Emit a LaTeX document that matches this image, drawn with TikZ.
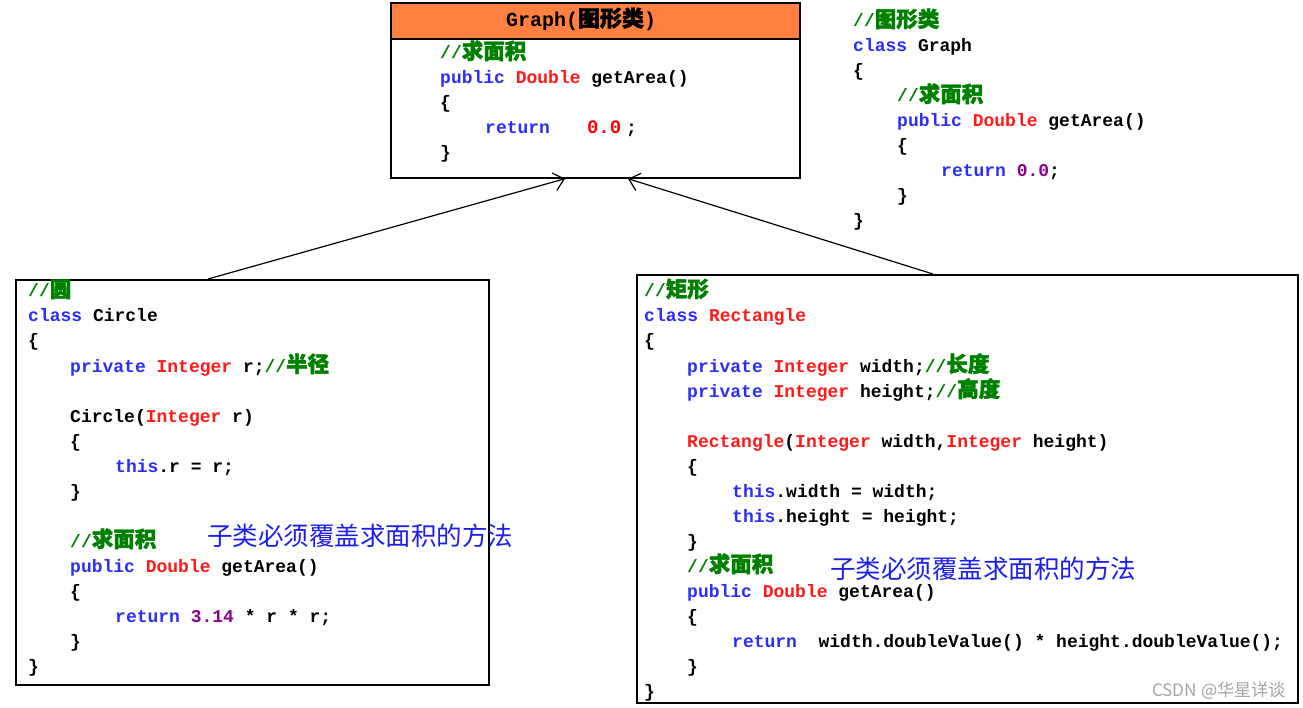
\documentclass[tikz,border=0pt]{standalone}
\usepackage{fontspec}
\usetikzlibrary{arrows.meta,calc}
\setmainfont{Liberation Sans}
\setmonofont{Liberation Mono}
\newfontfamily\cjk{Noto Sans CJK SC}
\newfontfamily\cjkb[FakeBold=2]{Noto Sans CJK SC}
\definecolor{kwblue}{RGB}{45,45,250}
\definecolor{tyred}{RGB}{255,25,25}
\definecolor{cmgreen}{RGB}{0,128,0}
\definecolor{numpurple}{RGB}{140,0,140}
\definecolor{hdrorange}{RGB}{255,128,64}
\definecolor{annblue}{RGB}{30,30,235}
\definecolor{wmgray}{RGB}{165,165,165}
\newcommand\K[1]{\textcolor{kwblue}{#1}}
\newcommand\T[1]{\textcolor{tyred}{#1}}
\newcommand\N[1]{\textcolor{numpurple}{#1}}
\newcommand\Cm[1]{\textcolor{cmgreen}{//{\cjkb\fontsize{21.5}{21.5}\selectfont #1}}}
\tikzset{
  code/.style={anchor=base west, inner sep=0pt, font=\ttfamily\fontsize{18}{18}\selectfont\bfseries, text=black},
  ann/.style={anchor=base west, inner sep=0pt, font=\cjk\fontsize{25.5}{25.5}\selectfont, text=annblue},
  box/.style={draw=black, line width=1.7pt, anchor=north west, inner sep=0pt, fill=white},
  inh/.style={draw=black, line width=1.2pt, -{Straight Barb[length=10pt,width=18pt,line width=1.2pt]}}
}
\newcommand\cl[4]{\node[code] (#1) at (#2,#3+6) {#4};}
\begin{document}
\begin{tikzpicture}[x=1pt,y=-1pt]
\useasboundingbox (0,0) rectangle (1303,708);
% boxes
\node[box, minimum width=409pt, minimum height=175pt] (gbox) at (390,2) {};
\node[box, fill=hdrorange, minimum width=409pt, minimum height=36pt] (ghead) at (390,2) {};
\node[anchor=center, inner sep=0pt, font=\ttfamily\fontsize{20}{20}\selectfont\bfseries] (gtitle) at (581,19) {Graph({\cjkb\fontsize{22}{22}\selectfont 图形类})};
\node[box, minimum width=473pt, minimum height=405pt] (cbox) at (15,279) {};
\node[box, minimum width=661pt, minimum height=428pt] (rbox) at (636,274) {};
% arrows
\draw[inh] ($(cbox.north west)+(193,0)$) -- ($(gbox.south west)+(175,0)$);
\draw[inh] ($(rbox.north west)+(297,0)$) -- ($(gbox.south west)+(238,0)$);
% Graph box body
\cl{g1}{440}{53}{\Cm{求面积}}
\cl{g2}{440}{78}{\K{public} \T{Double} getArea()}
\cl{g3}{440}{103}{\{}
\cl{g4}{485}{128}{\K{return}\hspace{37pt}\textcolor{red}{\fontsize{19}{19}\selectfont 0.0}\hspace{5pt};}
\cl{g5}{440}{153}{\}}
% side code
\cl{s1}{853}{21}{\Cm{图形类}}
\cl{s2}{853}{46}{\K{class} Graph}
\cl{s3}{853}{71}{\{}
\cl{s4}{897}{96}{\Cm{求面积}}
\cl{s5}{897}{121}{\K{public} \T{Double} getArea()}
\cl{s6}{897}{146}{\{}
\cl{s7}{941}{171}{\K{return} \N{0.0};}
\cl{s8}{897}{196}{\}}
\cl{s9}{853}{221}{\}}
% Circle
\cl{c1}{28}{291}{\Cm{圆}}
\cl{c2}{28}{316}{\K{class} Circle}
\cl{c3}{28}{341}{\{}
\cl{c4}{70}{366}{\K{private} \T{Integer} r;\Cm{半径}}
\cl{c5}{70}{416}{Circle(\T{Integer} r)}
\cl{c6}{70}{441}{\{}
\cl{c7}{115}{466}{\K{this}.r = r;}
\cl{c8}{70}{491}{\}}
\cl{c9}{70}{541}{\Cm{求面积}}
\cl{c10}{70}{566}{\K{public} \T{Double} getArea()}
\cl{c11}{70}{591}{\{}
\cl{c12}{115}{616}{\K{return} \N{3.14} * r * r;}
\cl{c13}{70}{641}{\}}
\cl{c14}{28}{666}{\}}
\node[ann] (ca) at (207,545) {子类必须覆盖求面积的方法};
% Rectangle
\cl{r1}{644}{291}{\Cm{矩形}}
\cl{r2}{644}{316}{\K{class} \T{Rectangle}}
\cl{r3}{644}{341}{\{}
\cl{r4}{687}{366}{\K{private} \T{Integer} width;\Cm{长度}}
\cl{r5}{687}{391}{\K{private} \T{Integer} height;\Cm{高度}}
\cl{r6}{687}{441}{\T{Rectangle}(\T{Integer} width,\T{Integer} height)}
\cl{r7}{687}{466}{\{}
\cl{r8}{732}{491}{\K{this}.width = width;}
\cl{r9}{732}{516}{\K{this}.height = height;}
\cl{r10}{687}{541}{\}}
\cl{r11}{687}{566}{\Cm{求面积}}
\cl{r12}{687}{591}{\K{public} \T{Double} getArea()}
\cl{r13}{687}{616}{\{}
\cl{r14}{732}{641}{\K{return}\ \ width.doubleValue() * height.doubleValue();}
\cl{r15}{687}{666}{\}}
\cl{r16}{644}{691}{\}}
\node[ann] (ra) at (830,578) {子类必须覆盖求面积的方法};
\node[anchor=base west, inner sep=0pt, font=\cjk\fontsize{17.2}{17.2}\selectfont, text=wmgray] (wm) at (1152,696) {CSDN @华星详谈};
\end{tikzpicture}
\end{document}
